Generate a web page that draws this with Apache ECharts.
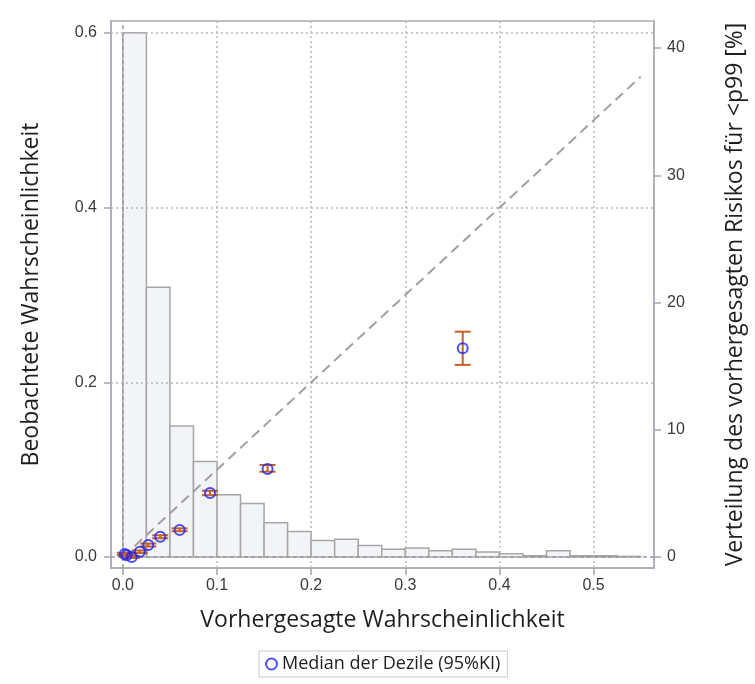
<!DOCTYPE html>
<html>
<head>
<meta charset="utf-8">
<script src="https://cdn.jsdelivr.net/npm/echarts@6/dist/echarts.min.js"></script>
<style>
  html, body { margin: 0; padding: 0; background: #fff; }
  #chart { width: 755px; height: 684px; }
</style>
</head>
<body>
<div id="chart"></div>
<script>
// Histogram of predicted risk (<p99), percent per bin
const binStarts = [0.000, 0.025, 0.050, 0.075, 0.100, 0.125, 0.150, 0.175, 0.200, 0.225, 0.250,
                   0.275, 0.300, 0.325, 0.350, 0.375, 0.400, 0.425, 0.450, 0.475, 0.500, 0.525];
const binEnds   = [0.025, 0.050, 0.075, 0.100, 0.125, 0.150, 0.175, 0.200, 0.225, 0.250, 0.275,
                   0.300, 0.325, 0.350, 0.375, 0.400, 0.425, 0.450, 0.475, 0.500, 0.525, 0.550];
const binPercent = [41.2, 21.2, 10.3, 7.5, 4.9, 4.2, 2.7, 2.0, 1.3, 1.4, 0.9,
                    0.6, 0.7, 0.5, 0.6, 0.4, 0.25, 0.1, 0.5, 0.1, 0.1, 0.05];

// Decile medians: predicted vs observed, with 95% CI of observed
const decPred = [0.002, 0.004, 0.0095, 0.018, 0.027, 0.0397, 0.0603, 0.0926, 0.1537, 0.361];
const decObs  = [0.0034, 0.002, 0.000, 0.006, 0.0137, 0.0232, 0.031, 0.0733, 0.1008, 0.239];
const decLo   = [0.002, 0.001, -0.001, 0.0045, 0.012, 0.0215, 0.0295, 0.0708, 0.0977, 0.220];
const decHi   = [0.0048, 0.003, 0.001, 0.0075, 0.0154, 0.0249, 0.0328, 0.0758, 0.1054, 0.258];

// Reference diagonal (perfect calibration)
const diagX = [0, 0.55];
const diagY = [0, 0.55];

// Tick values
const xTicks = [0, 0.1, 0.2, 0.3, 0.4, 0.5];
const yTicks = [0, 0.2, 0.4, 0.6];
const y2Ticks = [0, 10, 20, 30, 40];

const X_MIN = -0.0126, X_MAX = 0.5642;
const Y_MIN = -0.0126, Y_MAX = 0.6138;
const PCT_PER_UNIT = 68.63;

const chart = echarts.init(document.getElementById('chart'), null, { renderer: 'canvas' });

const tickFont = { fontFamily: 'Liberation Sans, Arial, sans-serif', fontSize: 16, color: '#3a3a3a' };
const titleFont = { fontFamily: 'Open Sans, Noto Sans, sans-serif', fontSize: 23, color: '#1e1e1e' };

const gridLines = [];
xTicks.forEach(v => gridLines.push({ xAxis: v, lineStyle: v === 0 ? { type: [4, 3], color: '#9a9a9a' } : {} }));
yTicks.forEach(v => gridLines.push({ yAxis: v, lineStyle: v === 0 ? { type: [4, 3], color: '#9a9a9a' } : {} }));

const option = {
  animation: false,
  backgroundColor: '#ffffff',
  grid: {
    left: 111, right: 96, top: 21, bottom: 116,
    show: true, borderColor: '#a9adb3', borderWidth: 1.5, backgroundColor: 'transparent'
  },
  xAxis: {
    type: 'value', min: X_MIN, max: X_MAX,
    name: 'Vorhergesagte Wahrscheinlichkeit',
    nameLocation: 'middle', nameGap: 41,
    nameTextStyle: titleFont,
    axisLine: { show: true, onZero: false, lineStyle: { color: '#a9adb3', width: 1.5 } },
    axisTick: { show: true, customValues: xTicks, length: 7, lineStyle: { color: '#a0a4aa', width: 1.5 } },
    axisLabel: Object.assign({ customValues: xTicks, margin: 10, formatter: v => v.toFixed(1) }, tickFont),
    splitLine: { show: false }
  },
  yAxis: [
    {
      type: 'value', min: Y_MIN, max: Y_MAX, position: 'left',
      name: 'Beobachtete Wahrscheinlichkeit',
      nameLocation: 'middle', nameGap: 68, nameRotate: 90,
      nameTextStyle: titleFont,
      axisLine: { show: true, onZero: false, lineStyle: { color: '#a9adb3', width: 1.5 } },
      axisTick: { show: true, customValues: yTicks, length: 7, lineStyle: { color: '#a0a4aa', width: 1.5 } },
      axisLabel: Object.assign({ customValues: yTicks, margin: 14, formatter: v => v.toFixed(1) }, tickFont),
      splitLine: { show: false }
    },
    {
      type: 'value', min: Y_MIN * PCT_PER_UNIT, max: Y_MAX * PCT_PER_UNIT, position: 'right',
      name: 'Verteilung des vorhergesagten Risikos für <p99 [%]',
      nameLocation: 'middle', nameGap: 70, nameRotate: 90,
      nameTextStyle: titleFont,
      axisLine: { show: true, onZero: false, lineStyle: { color: '#a9adb3', width: 1.5 } },
      axisTick: { show: true, customValues: y2Ticks, length: 7, lineStyle: { color: '#a0a4aa', width: 1.5 } },
      axisLabel: Object.assign({ customValues: y2Ticks, margin: 13, formatter: v => String(v) }, tickFont),
      splitLine: { show: false }
    }
  ],
  legend: {
    show: true,
    data: ['Median der Dezile (95%KI)'],
    left: 259, top: 651,
    padding: [4, 7, 4, 6],
    itemWidth: 11, itemHeight: 11, itemGap: 6,
    borderColor: '#c8c8c8', borderWidth: 1,
    textStyle: { fontFamily: 'Open Sans, Noto Sans, sans-serif', fontSize: 18, color: '#1e1e1e' }
  },
  series: [
    {
      name: 'hist', type: 'custom', xAxisIndex: 0, yAxisIndex: 1, z: 1, silent: true,
      data: binStarts.map((s, i) => [s, binEnds[i], binPercent[i]]),
      renderItem: function (params, api) {
        const p0 = api.coord([api.value(0), api.value(2)]);
        const p1 = api.coord([api.value(1), 0]);
        return {
          type: 'rect',
          shape: { x: p0[0], y: p0[1], width: p1[0] - p0[0], height: p1[1] - p0[1] },
          style: { fill: '#f2f4f8', stroke: '#a6a6a6', lineWidth: 1.5 }
        };
      }
    },
    {
      name: 'diag', type: 'line', xAxisIndex: 0, yAxisIndex: 0, z: 3, silent: true,
      data: diagX.map((x, i) => [x, diagY[i]]),
      symbol: 'none',
      lineStyle: { color: '#a0a0a0', width: 2, type: [10, 6] },
      markLine: {
        silent: true, symbol: 'none', label: { show: false }, z: 2,
        lineStyle: { color: '#b8b8b8', width: 1.5, type: [2, 3] },
        data: gridLines
      }
    },
    {
      name: 'ci', type: 'custom', xAxisIndex: 0, yAxisIndex: 0, z: 4, silent: true,
      data: decPred.map((x, i) => [x, decObs[i], decLo[i], decHi[i]]),
      renderItem: function (params, api) {
        const lo = api.coord([api.value(0), api.value(2)]);
        const hi = api.coord([api.value(0), api.value(3)]);
        const cap = 8;
        const st = { stroke: '#c0612b', lineWidth: 2 };
        return {
          type: 'group',
          children: [
            { type: 'line', shape: { x1: lo[0], y1: lo[1], x2: hi[0], y2: hi[1] }, style: st },
            { type: 'line', shape: { x1: lo[0] - cap, y1: lo[1], x2: lo[0] + cap, y2: lo[1] }, style: st },
            { type: 'line', shape: { x1: hi[0] - cap, y1: hi[1], x2: hi[0] + cap, y2: hi[1] }, style: st }
          ]
        };
      }
    },
    {
      name: 'Median der Dezile (95%KI)', type: 'scatter', xAxisIndex: 0, yAxisIndex: 0, z: 5,
      data: decPred.map((x, i) => [x, decObs[i]]),
      symbol: 'circle', symbolSize: 10,
      itemStyle: { color: 'rgba(255,255,255,0)', borderColor: '#2323f0', borderWidth: 2 }
    }
  ]
};

chart.setOption(option);
</script>
</body>
</html>
